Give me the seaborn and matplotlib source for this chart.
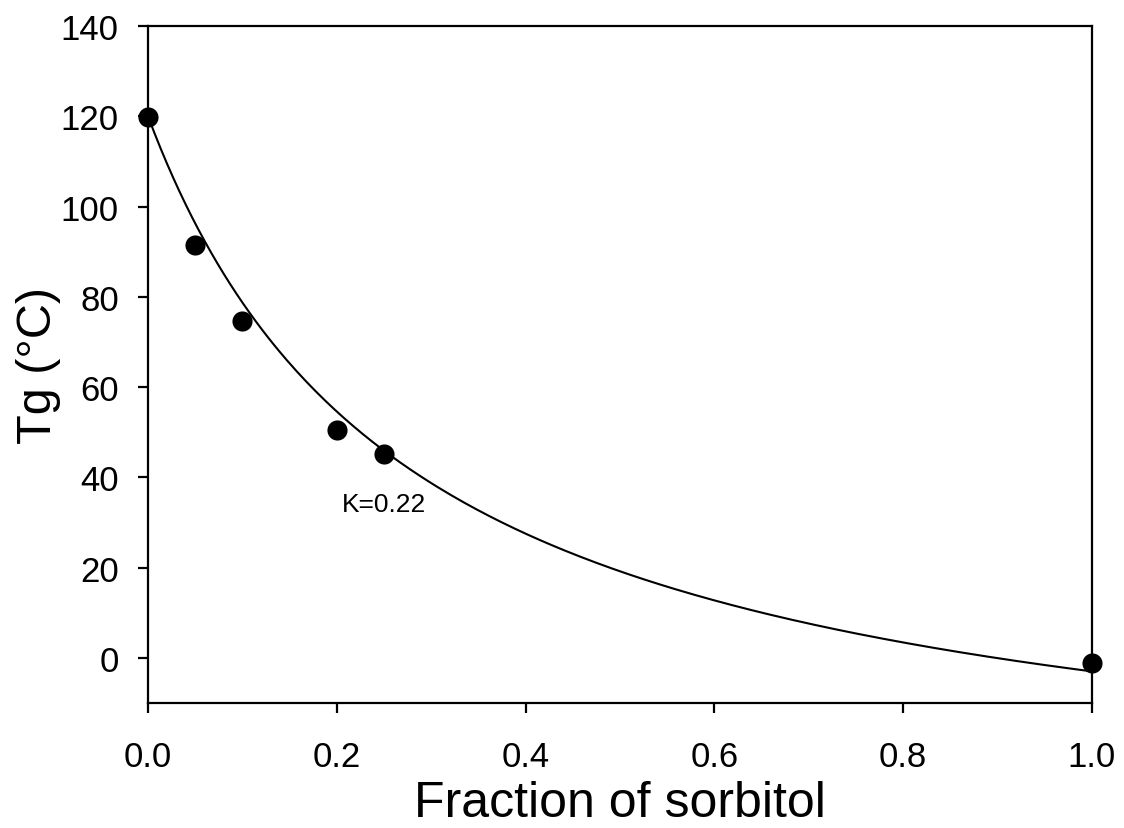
import numpy as np
import matplotlib
matplotlib.use("Agg")
import matplotlib.pyplot as plt
import seaborn as sns
import pandas as pd

# Measured data
fraction_sorbitol = [0.0, 0.05, 0.10, 0.20, 0.25, 1.0]
tg_measured = [119.8, 91.5, 74.7, 50.5, 45.2, -1.1]

# Gordon-Taylor fit parameters (shown on the chart)
K = 0.22
tg_polymer = 120.0
tg_sorbitol = -3.0

x_fit = np.linspace(0.0, 1.0, 300)
tg_fit = (K * (1 - x_fit) * tg_polymer + x_fit * tg_sorbitol) / (K * (1 - x_fit) + x_fit)

sns.set_theme(style="ticks")
plt.rcParams['font.family'] = ['Liberation Sans', 'DejaVu Sans']

fig = plt.figure(figsize=(11.24, 8.29), dpi=100)
ax = fig.add_axes([0.1317, 0.1508, 0.9715 - 0.1317, 0.9674 - 0.1508])

df_pts = pd.DataFrame({"x": fraction_sorbitol, "y": tg_measured})
df_fit = pd.DataFrame({"x": x_fit, "y": tg_fit})

sns.lineplot(data=df_fit, x="x", y="y", ax=ax, color="black", linewidth=1.5, zorder=2)
sns.scatterplot(data=df_pts, x="x", y="y", ax=ax, color="black", s=210,
                edgecolor="black", linewidth=0, zorder=3, clip_on=False)

ax.set_xlim(0, 1.0)
ax.set_ylim(-10, 140)
ax.set_xticks([0.0, 0.2, 0.4, 0.6, 0.8, 1.0])
ax.set_xticklabels(["0.0", "0.2", "0.4", "0.6", "0.8", "1.0"])
ax.set_yticks([0, 20, 40, 60, 80, 100, 120, 140])

for s in ax.spines.values():
    s.set_linewidth(1.6)
    s.set_color("black")

ax.tick_params(axis="x", direction="out", length=7, width=1.6, labelsize=25, pad=20,
               colors="black", top=False)
ax.tick_params(axis="y", direction="out", length=7, width=1.6, labelsize=25, pad=14,
               colors="black", right=False)

ax.set_xlabel("Fraction of sorbitol", fontsize=36, labelpad=5, color="black")
ax.set_ylabel("Tg (°C)", fontsize=35, labelpad=0, color="black")

ax.text(0.205, 34.2, "K=0.22", fontsize=19, ha="left", va="center", color="black")

fig.savefig("out.png", dpi=100)
